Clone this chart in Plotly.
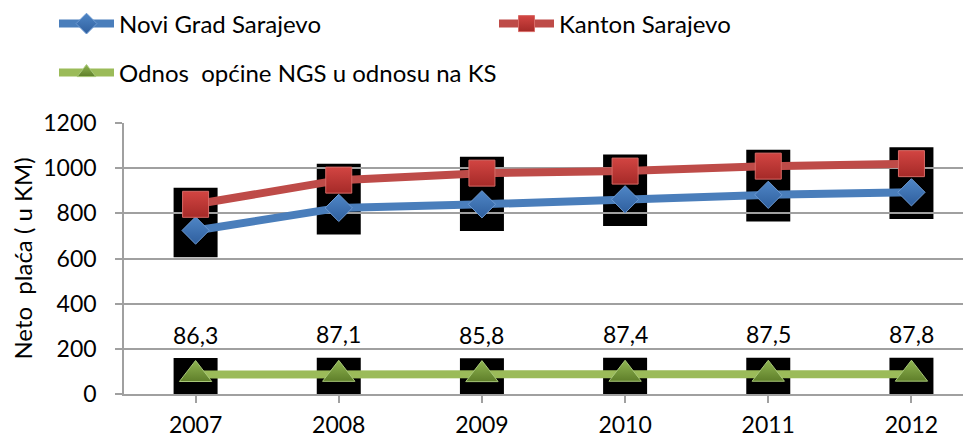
import plotly.graph_objects as go

years = ["2007", "2008", "2009", "2010", "2011", "2012"]
novi_grad = [724, 824, 840, 862, 882, 893]
kanton = [840, 947, 978, 987, 1009, 1020]
odnos = [86.3, 87.1, 85.8, 87.4, 87.5, 87.8]
y_ticks = [0, 200, 400, 600, 800, 1000, 1200]

FONT = "Lato"
FS = 23
FS_TXT = 24
GRID = "#a0a0a0"

# page body has an 8px margin, so the figure is sized to the remaining area
W, H = 963, 429

fig = go.Figure()

xs = list(range(len(years)))

fig.add_trace(go.Scatter(
    x=xs, y=novi_grad, name="Novi Grad Sarajevo", mode="lines+markers",
    line=dict(color="#4a7ebb", width=8),
    marker=dict(symbol="diamond", size=21, color="#4f86c6",
                gradient=dict(type="vertical", color="#2f5f9e"),
                line=dict(color="#6d9ad2", width=1)),
    legend="legend",
))
fig.add_trace(go.Scatter(
    x=xs, y=kanton, name="Kanton Sarajevo", mode="lines+markers",
    line=dict(color="#be4b48", width=8),
    marker=dict(symbol="square", size=26, color="#d24542",
                gradient=dict(type="vertical", color="#a52a28"),
                line=dict(color="#d86a66", width=1)),
    legend="legend3",
))
fig.add_trace(go.Scatter(
    x=xs, y=odnos, name="Odnos  općine NGS u odnosu na KS", mode="lines+markers",
    line=dict(color="#9bbb59", width=8),
    marker=dict(symbol="triangle-up", size=28, color="#8fb451",
                gradient=dict(type="vertical", color="#5f7f2a"),
                line=dict(color="#a8c878", width=1)),
    legend="legend2",
))

# black label backgrounds behind markers
for i in xs:
    hi = max(novi_grad[i], kanton[i])
    lo = min(novi_grad[i], kanton[i])
    for top, bot in ((hi, lo), (odnos[i], odnos[i])):
        fig.add_shape(type="rect", xref="x", yref="y", xsizemode="pixel",
                      xanchor=i, x0=-22, x1=22, y0=bot - 118, y1=top + 73,
                      fillcolor="black", line=dict(width=0), layer="below")

# data labels for ratio series
for i in xs:
    fig.add_annotation(x=i, y=odnos[i], text=f"{odnos[i]:.1f}".replace(".", ","),
                       showarrow=False, yshift=40,
                       font=dict(family=FONT, size=FS, color="black"))

leg_common = dict(orientation="h", xref="container", yref="container",
                  xanchor="left", yanchor="middle", itemwidth=55,
                  font=dict(family=FONT, size=FS_TXT), bgcolor="rgba(0,0,0,0)")

fig.update_layout(
    width=W, height=H,
    margin=dict(l=116, r=0, t=115, b=43, autoexpand=False),
    paper_bgcolor="white", plot_bgcolor="white",
    font=dict(family=FONT, size=FS, color="black"),
    showlegend=True,
    legend=dict(x=46 / W, y=1 - 16 / H, **leg_common),
    legend3=dict(x=486 / W, y=1 - 16 / H, **leg_common),
    legend2=dict(x=46 / W, y=1 - 65 / H, **leg_common),
    xaxis=dict(range=[-0.5, 5.416], tickvals=xs, ticktext=years,
               showgrid=False, showline=True, linecolor=GRID, linewidth=1.5,
               ticks="outside", tickson="boundaries", ticklen=7,
               tickcolor=GRID, tickwidth=1.5, zeroline=False,
               ticklabelstandoff=3,
               tickfont=dict(family=FONT, size=FS)),
    yaxis=dict(range=[0, 1200], tickvals=y_ticks, showgrid=True,
               gridcolor=GRID, gridwidth=1.5, showline=True, linecolor=GRID,
               linewidth=1.5, ticks="outside", ticklen=7, tickcolor=GRID,
               tickwidth=1.5, zeroline=False, ticklabelstandoff=14,
               tickfont=dict(family=FONT, size=FS),
               title=dict(text="Neto  plaća ( u KM)", standoff=10,
                          font=dict(family=FONT, size=FS_TXT))),
)

fig.write_html("out.html")
